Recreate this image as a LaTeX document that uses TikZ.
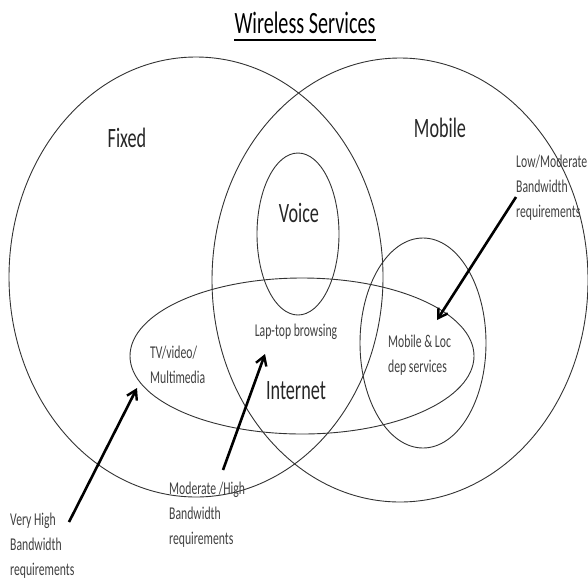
\documentclass[tikz,border=0pt]{standalone}
\usepackage{fontspec}
\setmainfont[FakeStretch=0.65]{Carlito}
\usetikzlibrary{arrows.meta}
\begin{document}
\begin{tikzpicture}[x=1pt,y=-1pt,
  ring/.style={draw=black!80,line width=0.9pt},
  big/.style={font=\fontsize{28}{30}\selectfont,text=black!85,inner sep=0pt},
  small/.style={font=\fontsize{18}{25}\selectfont,text=black!75,inner sep=0pt,align=left},
  pointer/.style={line width=2.6pt,-{Straight Barb[length=9pt,width=11pt,line width=2.4pt]}}]
\useasboundingbox (0,0) rectangle (588,579);
% title
\node[font=\fontsize{31}{33}\selectfont,inner sep=0pt,anchor=base] (title) at (305,33) {Wireless Services};
\draw[line width=1.4pt] ([yshift=-7pt]title.base west) -- ([yshift=-7pt]title.base east);
% ellipses
\draw[ring] (196,277) ellipse [x radius=187,y radius=220];
\draw[ring] (400,280) ellipse [x radius=188,y radius=222];
\draw[ring] (298,234) ellipse [x radius=41,y radius=81];
\draw[ring] (302,356) ellipse [x radius=172,y radius=78];
\draw[ring] (423,343) ellipse [x radius=63,y radius=105];
% big labels
\node[big] (fixed) at (127,138) {Fixed};
\node[big] (mobile) at (440,128) {Mobile};
\node[big] (voice) at (299,213) {Voice};
\node[big] (internet) at (296,391) {Internet};
% small labels
\node[small] (lap) at (296,332) {Lap-top browsing};
\node[small,anchor=west] (tv) at (150,365) {TV/video/\\Multimedia};
\node[small,anchor=west] (mob) at (388,355) {Mobile \& Loc\\dep services};
\node[small,anchor=west] (low) at (516,188) {Low/Moderate\\Bandwidth\\requirements};
\node[small,anchor=west] (vhigh) at (10,546) {Very High\\Bandwidth\\requirements};
\node[small,anchor=west] (mhigh) at (169,515) {Moderate /High\\Bandwidth\\requirements};
% arrows
\coordinate (a1s) at (69,522);
\coordinate (a1t) at (137,388);
\coordinate (a2s) at (223,470);
\coordinate (a2t) at (265,354);
\coordinate (a3s) at (516,197);
\coordinate (a3t) at (437,320);
\draw[pointer] (a1s) -- (a1t);
\draw[pointer] (a2s) -- (a2t);
\draw[pointer] (a3s) -- (a3t);
\end{tikzpicture}
\end{document}
